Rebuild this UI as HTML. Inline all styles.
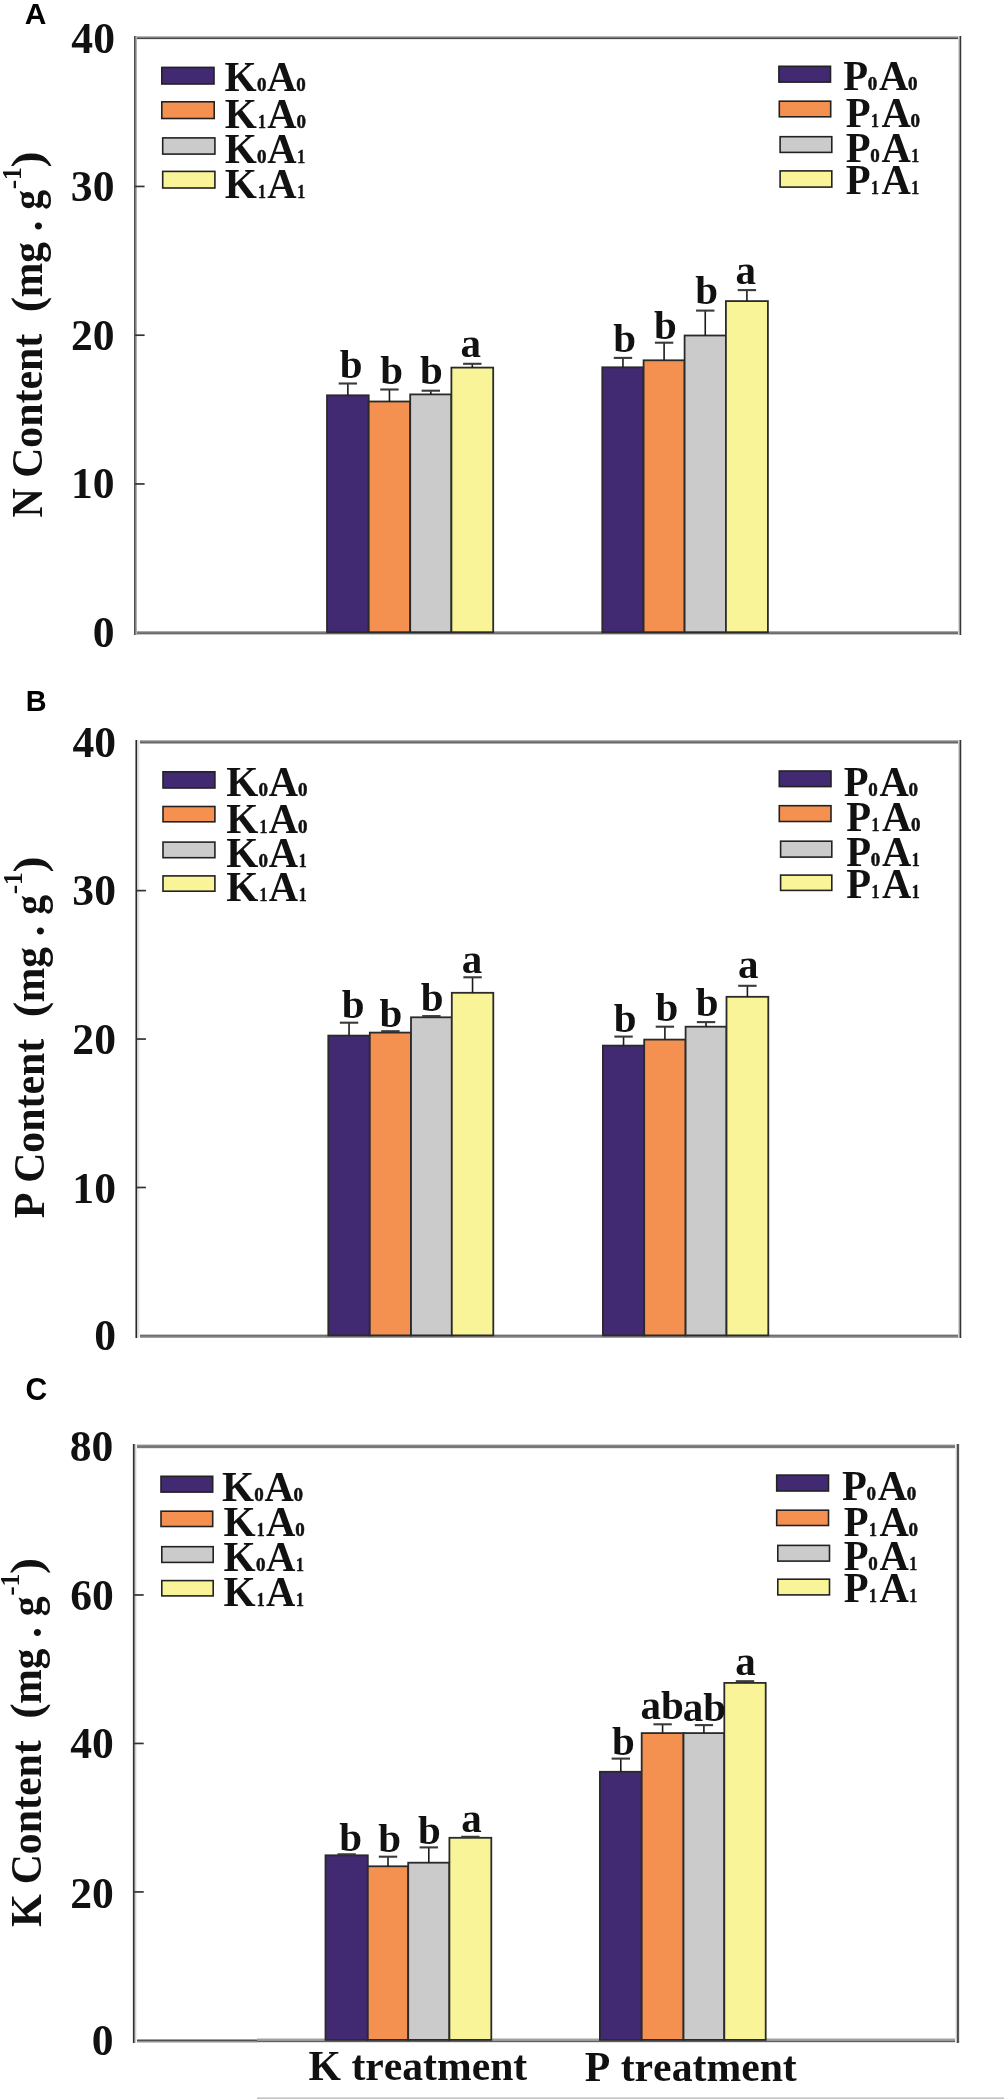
<!DOCTYPE html><html><head><meta charset="utf-8"><style>html,body{margin:0;padding:0;background:#fff;width:1004px;height:2099px}svg{display:block;will-change:transform}</style></head><body><svg width="1004" height="2099" viewBox="0 0 1004 2099" style="font-kerning:none">
<rect x="0" y="0" width="1004" height="2099" fill="#fff"/>
<text transform="translate(24.85,23.9)" font-family="'Liberation Sans', sans-serif" font-weight="bold" font-size="29.94" fill="#000">A</text>
<rect x="134" y="36" width="828" height="1" fill="#b8b8b8" shape-rendering="crispEdges"/>
<rect x="134" y="37" width="828" height="1" fill="#808080" shape-rendering="crispEdges"/>
<rect x="134" y="38" width="828" height="1" fill="#484848" shape-rendering="crispEdges"/>
<rect x="134" y="39" width="828" height="1" fill="#e8e8e8" shape-rendering="crispEdges"/>
<rect x="134" y="631" width="828" height="1" fill="#a8a8a8" shape-rendering="crispEdges"/>
<rect x="134" y="632" width="828" height="1" fill="#787878" shape-rendering="crispEdges"/>
<rect x="134" y="633" width="828" height="1" fill="#6a6a6a" shape-rendering="crispEdges"/>
<rect x="134" y="634" width="828" height="1" fill="#c8c8c8" shape-rendering="crispEdges"/>
<rect x="134" y="36" width="1" height="599" fill="#4e4e4e" shape-rendering="crispEdges"/>
<rect x="135" y="36" width="1" height="599" fill="#808080" shape-rendering="crispEdges"/>
<rect x="136" y="36" width="1" height="599" fill="#b0b0b0" shape-rendering="crispEdges"/>
<rect x="958" y="36" width="1" height="599" fill="#d8d8d8" shape-rendering="crispEdges"/>
<rect x="959" y="36" width="1" height="599" fill="#989898" shape-rendering="crispEdges"/>
<rect x="960" y="36" width="1" height="599" fill="#353535" shape-rendering="crispEdges"/>
<rect x="961" y="36" width="1" height="599" fill="#d0d0d0" shape-rendering="crispEdges"/>
<rect x="327" y="395.3" width="41.7" height="236.9" fill="#412a72" stroke="#2a2a2a" stroke-width="1.8"/>
<rect x="368.7" y="401.5" width="41.5" height="230.7" fill="#f59150" stroke="#2a2a2a" stroke-width="1.8"/>
<rect x="410.2" y="394.4" width="41.2" height="237.8" fill="#cbcbcb" stroke="#2a2a2a" stroke-width="1.8"/>
<rect x="451.4" y="367.6" width="41.8" height="264.6" fill="#faf499" stroke="#2a2a2a" stroke-width="1.8"/>
<line x1="347.85" y1="383.5" x2="347.85" y2="395.3" stroke="#1a1a1a" stroke-width="1.6"/>
<line x1="338.65" y1="383.5" x2="357.05" y2="383.5" stroke="#3a3a3a" stroke-width="2.1"/>
<text x="339.67" y="378.39" font-family="'Liberation Serif', serif" font-weight="bold" font-size="41" fill="#111">b</text>
<line x1="389.45" y1="389.5" x2="389.45" y2="401.5" stroke="#1a1a1a" stroke-width="1.6"/>
<line x1="380.25" y1="389.5" x2="398.65" y2="389.5" stroke="#3a3a3a" stroke-width="2.1"/>
<text x="380.17" y="384.39" font-family="'Liberation Serif', serif" font-weight="bold" font-size="41" fill="#111">b</text>
<line x1="430.8" y1="390.7" x2="430.8" y2="394.4" stroke="#1a1a1a" stroke-width="1.6"/>
<line x1="421.6" y1="390.7" x2="440" y2="390.7" stroke="#3a3a3a" stroke-width="2.1"/>
<text x="420.07" y="383.79" font-family="'Liberation Serif', serif" font-weight="bold" font-size="41" fill="#111">b</text>
<line x1="472.3" y1="363.8" x2="472.3" y2="367.6" stroke="#1a1a1a" stroke-width="1.6"/>
<line x1="463.1" y1="363.8" x2="481.5" y2="363.8" stroke="#3a3a3a" stroke-width="2.1"/>
<text x="460.6" y="357.39" font-family="'Liberation Serif', serif" font-weight="bold" font-size="41" fill="#111">a</text>
<rect x="602.3" y="367.3" width="41.3" height="264.9" fill="#412a72" stroke="#2a2a2a" stroke-width="1.8"/>
<rect x="643.6" y="360.3" width="41" height="271.9" fill="#f59150" stroke="#2a2a2a" stroke-width="1.8"/>
<rect x="684.6" y="335.5" width="41.3" height="296.7" fill="#cbcbcb" stroke="#2a2a2a" stroke-width="1.8"/>
<rect x="725.9" y="301.1" width="42" height="331.1" fill="#faf499" stroke="#2a2a2a" stroke-width="1.8"/>
<line x1="622.95" y1="357.9" x2="622.95" y2="367.3" stroke="#1a1a1a" stroke-width="1.6"/>
<line x1="613.75" y1="357.9" x2="632.15" y2="357.9" stroke="#3a3a3a" stroke-width="2.1"/>
<text x="613.27" y="351.79" font-family="'Liberation Serif', serif" font-weight="bold" font-size="41" fill="#111">b</text>
<line x1="664.1" y1="342.7" x2="664.1" y2="360.3" stroke="#1a1a1a" stroke-width="1.6"/>
<line x1="654.9" y1="342.7" x2="673.3" y2="342.7" stroke="#3a3a3a" stroke-width="2.1"/>
<text x="653.97" y="338.59" font-family="'Liberation Serif', serif" font-weight="bold" font-size="41" fill="#111">b</text>
<line x1="705.25" y1="310.6" x2="705.25" y2="335.5" stroke="#1a1a1a" stroke-width="1.6"/>
<line x1="696.05" y1="310.6" x2="714.45" y2="310.6" stroke="#3a3a3a" stroke-width="2.1"/>
<text x="695.17" y="304.49" font-family="'Liberation Serif', serif" font-weight="bold" font-size="41" fill="#111">b</text>
<line x1="746.9" y1="290.1" x2="746.9" y2="301.1" stroke="#1a1a1a" stroke-width="1.6"/>
<line x1="737.7" y1="290.1" x2="756.1" y2="290.1" stroke="#3a3a3a" stroke-width="2.1"/>
<text x="735.6" y="283.69" font-family="'Liberation Serif', serif" font-weight="bold" font-size="41" fill="#111">a</text>
<line x1="135.1" y1="186.45" x2="144.6" y2="186.45" stroke="#333" stroke-width="1.7"/>
<line x1="135.1" y1="335.2" x2="144.6" y2="335.2" stroke="#333" stroke-width="1.7"/>
<line x1="135.1" y1="483.95" x2="144.6" y2="483.95" stroke="#333" stroke-width="1.7"/>
<text x="71.36" y="52.56" font-family="'Liberation Serif', serif" font-weight="bold" font-size="43.6" fill="#111">40</text>
<text x="70.86" y="200.86" font-family="'Liberation Serif', serif" font-weight="bold" font-size="43.6" fill="#111">30</text>
<text x="70.96" y="349.56" font-family="'Liberation Serif', serif" font-weight="bold" font-size="43.6" fill="#111">20</text>
<text x="70.96" y="498.06" font-family="'Liberation Serif', serif" font-weight="bold" font-size="43.6" fill="#111">10</text>
<text x="92.66" y="646.86" font-family="'Liberation Serif', serif" font-weight="bold" font-size="43.6" fill="#111">0</text>
<text transform="translate(42.3,517.47) rotate(-90) scale(0.9254,1)" font-family="'Liberation Serif', serif" font-weight="bold" font-size="43.7" fill="#111">N</text>
<text transform="translate(42.3,477.84) rotate(-90) scale(0.9569,1)" font-family="'Liberation Serif', serif" font-weight="bold" font-size="43.7" fill="#111">Content</text>
<text transform="translate(42.3,312.25) rotate(-90) scale(1.0692,1)" font-family="'Liberation Serif', serif" font-weight="bold" font-size="43.7" fill="#111">(</text>
<text transform="translate(42.3,297.31) rotate(-90) scale(0.9479,1)" font-family="'Liberation Serif', serif" font-weight="bold" font-size="43.7" fill="#111">mg</text>
<text transform="translate(42.3,231.6) rotate(-90) scale(0.9881,1)" font-family="'Liberation Serif', serif" font-weight="bold" font-size="43.7" fill="#111">.</text>
<text transform="translate(42.3,209.75) rotate(-90) scale(0.9077,1)" font-family="'Liberation Serif', serif" font-weight="bold" font-size="43.7" fill="#111">g</text>
<text transform="translate(20.9,189.34) rotate(-90) scale(1.0174,1)" font-family="'Liberation Serif', serif" font-weight="bold" font-size="28" fill="#111">-</text>
<text transform="translate(20.9,179.97) rotate(-90) scale(0.9216,1)" font-family="'Liberation Serif', serif" font-weight="bold" font-size="28" fill="#111">1</text>
<text transform="translate(42.3,167.46) rotate(-90) scale(1.1048,1)" font-family="'Liberation Serif', serif" font-weight="bold" font-size="43.7" fill="#111">)</text>
<rect x="161.8" y="67.4" width="52.2" height="16.6" fill="#412a72" stroke="#222" stroke-width="1.6"/>
<text transform="translate(224.59,90.5) scale(0.9650,1)" font-family="'Liberation Serif', serif" font-weight="bold" font-size="42.8" fill="#111">K</text>
<text transform="translate(261.65,90.5) scale(0.96,1)" text-anchor="middle" font-family="'Liberation Serif', serif" font-weight="bold" font-size="19.8" fill="#111" stroke="#111" stroke-width="0.5">0</text>
<text transform="translate(267.1,90.5) scale(0.95,1)" font-family="'Liberation Serif', serif" font-weight="bold" font-size="42.8" fill="#111">A</text>
<text transform="translate(301.05,90.5) scale(0.96,1)" text-anchor="middle" font-family="'Liberation Serif', serif" font-weight="bold" font-size="19.8" fill="#111" stroke="#111" stroke-width="0.5">0</text>
<rect x="161.8" y="101.8" width="52.4" height="16.7" fill="#f59150" stroke="#222" stroke-width="1.6"/>
<text transform="translate(224.79,128.4) scale(0.9650,1)" font-family="'Liberation Serif', serif" font-weight="bold" font-size="42.8" fill="#111">K</text>
<text transform="translate(261.85,128.4) scale(0.8,1)" text-anchor="middle" font-family="'Liberation Serif', serif" font-weight="bold" font-size="19.8" fill="#111" stroke="#111" stroke-width="0.5">1</text>
<text transform="translate(267.3,128.4) scale(0.95,1)" font-family="'Liberation Serif', serif" font-weight="bold" font-size="42.8" fill="#111">A</text>
<text transform="translate(301.25,128.4) scale(0.96,1)" text-anchor="middle" font-family="'Liberation Serif', serif" font-weight="bold" font-size="19.8" fill="#111" stroke="#111" stroke-width="0.5">0</text>
<rect x="162.7" y="137.9" width="52.2" height="16.2" fill="#cbcbcb" stroke="#222" stroke-width="1.6"/>
<text transform="translate(224.79,162.7) scale(0.9650,1)" font-family="'Liberation Serif', serif" font-weight="bold" font-size="42.8" fill="#111">K</text>
<text transform="translate(261.85,162.7) scale(0.96,1)" text-anchor="middle" font-family="'Liberation Serif', serif" font-weight="bold" font-size="19.8" fill="#111" stroke="#111" stroke-width="0.5">0</text>
<text transform="translate(267.3,162.7) scale(0.95,1)" font-family="'Liberation Serif', serif" font-weight="bold" font-size="42.8" fill="#111">A</text>
<text transform="translate(301.25,162.7) scale(0.8,1)" text-anchor="middle" font-family="'Liberation Serif', serif" font-weight="bold" font-size="19.8" fill="#111" stroke="#111" stroke-width="0.5">1</text>
<rect x="162.7" y="171.4" width="52.2" height="16.6" fill="#faf499" stroke="#222" stroke-width="1.6"/>
<text transform="translate(224.79,197.6) scale(0.9650,1)" font-family="'Liberation Serif', serif" font-weight="bold" font-size="42.8" fill="#111">K</text>
<text transform="translate(261.85,197.6) scale(0.8,1)" text-anchor="middle" font-family="'Liberation Serif', serif" font-weight="bold" font-size="19.8" fill="#111" stroke="#111" stroke-width="0.5">1</text>
<text transform="translate(267.3,197.6) scale(0.95,1)" font-family="'Liberation Serif', serif" font-weight="bold" font-size="42.8" fill="#111">A</text>
<text transform="translate(301.25,197.6) scale(0.8,1)" text-anchor="middle" font-family="'Liberation Serif', serif" font-weight="bold" font-size="19.8" fill="#111" stroke="#111" stroke-width="0.5">1</text>
<rect x="778.9" y="66.3" width="51.6" height="15.8" fill="#412a72" stroke="#222" stroke-width="1.6"/>
<text transform="translate(843.31,90.4) scale(0.9500,1)" font-family="'Liberation Serif', serif" font-weight="bold" font-size="42.8" fill="#111">P</text>
<text transform="translate(872.55,90.4) scale(0.96,1)" text-anchor="middle" font-family="'Liberation Serif', serif" font-weight="bold" font-size="19.8" fill="#111" stroke="#111" stroke-width="0.5">0</text>
<text transform="translate(879,90.4) scale(0.95,1)" font-family="'Liberation Serif', serif" font-weight="bold" font-size="42.8" fill="#111">A</text>
<text transform="translate(912.65,90.4) scale(0.96,1)" text-anchor="middle" font-family="'Liberation Serif', serif" font-weight="bold" font-size="19.8" fill="#111" stroke="#111" stroke-width="0.5">0</text>
<rect x="779.3" y="101.2" width="51.4" height="15.6" fill="#f59150" stroke="#222" stroke-width="1.6"/>
<text transform="translate(845.81,127) scale(0.9500,1)" font-family="'Liberation Serif', serif" font-weight="bold" font-size="42.8" fill="#111">P</text>
<text transform="translate(875.05,127) scale(0.8,1)" text-anchor="middle" font-family="'Liberation Serif', serif" font-weight="bold" font-size="19.8" fill="#111" stroke="#111" stroke-width="0.5">1</text>
<text transform="translate(881.5,127) scale(0.95,1)" font-family="'Liberation Serif', serif" font-weight="bold" font-size="42.8" fill="#111">A</text>
<text transform="translate(915.15,127) scale(0.96,1)" text-anchor="middle" font-family="'Liberation Serif', serif" font-weight="bold" font-size="19.8" fill="#111" stroke="#111" stroke-width="0.5">0</text>
<rect x="780.1" y="136.7" width="51.7" height="15.7" fill="#cbcbcb" stroke="#222" stroke-width="1.6"/>
<text transform="translate(845.81,161.7) scale(0.9500,1)" font-family="'Liberation Serif', serif" font-weight="bold" font-size="42.8" fill="#111">P</text>
<text transform="translate(875.05,161.7) scale(0.96,1)" text-anchor="middle" font-family="'Liberation Serif', serif" font-weight="bold" font-size="19.8" fill="#111" stroke="#111" stroke-width="0.5">0</text>
<text transform="translate(881.5,161.7) scale(0.95,1)" font-family="'Liberation Serif', serif" font-weight="bold" font-size="42.8" fill="#111">A</text>
<text transform="translate(915.15,161.7) scale(0.8,1)" text-anchor="middle" font-family="'Liberation Serif', serif" font-weight="bold" font-size="19.8" fill="#111" stroke="#111" stroke-width="0.5">1</text>
<rect x="780.1" y="170.9" width="51.7" height="16.2" fill="#faf499" stroke="#222" stroke-width="1.6"/>
<text transform="translate(845.81,193.8) scale(0.9500,1)" font-family="'Liberation Serif', serif" font-weight="bold" font-size="42.8" fill="#111">P</text>
<text transform="translate(875.05,193.8) scale(0.8,1)" text-anchor="middle" font-family="'Liberation Serif', serif" font-weight="bold" font-size="19.8" fill="#111" stroke="#111" stroke-width="0.5">1</text>
<text transform="translate(881.5,193.8) scale(0.95,1)" font-family="'Liberation Serif', serif" font-weight="bold" font-size="42.8" fill="#111">A</text>
<text transform="translate(915.15,193.8) scale(0.8,1)" text-anchor="middle" font-family="'Liberation Serif', serif" font-weight="bold" font-size="19.8" fill="#111" stroke="#111" stroke-width="0.5">1</text>
<text transform="translate(25.77,711.2) scale(0.9638,1)" font-family="'Liberation Sans', sans-serif" font-weight="bold" font-size="29.94" fill="#000">B</text>
<rect x="135" y="740" width="827" height="1" fill="#b0b0b0" shape-rendering="crispEdges"/>
<rect x="135" y="741" width="827" height="1" fill="#808080" shape-rendering="crispEdges"/>
<rect x="135" y="742" width="827" height="1" fill="#666666" shape-rendering="crispEdges"/>
<rect x="135" y="743" width="827" height="1" fill="#b0b0b0" shape-rendering="crispEdges"/>
<rect x="135" y="1334" width="827" height="1" fill="#c8c8c8" shape-rendering="crispEdges"/>
<rect x="135" y="1335" width="827" height="1" fill="#6e6e6e" shape-rendering="crispEdges"/>
<rect x="135" y="1336" width="827" height="1" fill="#808080" shape-rendering="crispEdges"/>
<rect x="135" y="1337" width="827" height="1" fill="#a0a0a0" shape-rendering="crispEdges"/>
<rect x="135" y="740" width="1" height="598" fill="#888888" shape-rendering="crispEdges"/>
<rect x="136" y="740" width="1" height="598" fill="#282828" shape-rendering="crispEdges"/>
<rect x="137" y="740" width="1" height="598" fill="#d5d5d5" shape-rendering="crispEdges"/>
<rect x="138" y="740" width="1" height="598" fill="#e0e0e0" shape-rendering="crispEdges"/>
<rect x="139" y="740" width="1" height="598" fill="#f5f5f5" shape-rendering="crispEdges"/>
<rect x="958" y="740" width="1" height="598" fill="#d5d5d5" shape-rendering="crispEdges"/>
<rect x="959" y="740" width="1" height="598" fill="#959595" shape-rendering="crispEdges"/>
<rect x="960" y="740" width="1" height="598" fill="#353535" shape-rendering="crispEdges"/>
<rect x="961" y="740" width="1" height="598" fill="#c8c8c8" shape-rendering="crispEdges"/>
<rect x="328.3" y="1035.6" width="41.5" height="299.8" fill="#412a72" stroke="#2a2a2a" stroke-width="1.8"/>
<rect x="369.8" y="1032.6" width="41.2" height="302.8" fill="#f59150" stroke="#2a2a2a" stroke-width="1.8"/>
<rect x="411" y="1017.3" width="40.8" height="318.1" fill="#cbcbcb" stroke="#2a2a2a" stroke-width="1.8"/>
<rect x="451.8" y="992.8" width="41.5" height="342.6" fill="#faf499" stroke="#2a2a2a" stroke-width="1.8"/>
<line x1="349.05" y1="1022.7" x2="349.05" y2="1035.6" stroke="#1a1a1a" stroke-width="1.6"/>
<line x1="339.85" y1="1022.7" x2="358.25" y2="1022.7" stroke="#3a3a3a" stroke-width="2.1"/>
<text x="341.87" y="1018.09" font-family="'Liberation Serif', serif" font-weight="bold" font-size="41" fill="#111">b</text>
<line x1="390.4" y1="1031.2" x2="390.4" y2="1032.6" stroke="#1a1a1a" stroke-width="1.6"/>
<line x1="381.2" y1="1031.2" x2="399.6" y2="1031.2" stroke="#3a3a3a" stroke-width="2.1"/>
<text x="379.57" y="1026.59" font-family="'Liberation Serif', serif" font-weight="bold" font-size="41" fill="#111">b</text>
<line x1="431.4" y1="1016.1" x2="431.4" y2="1017.3" stroke="#1a1a1a" stroke-width="1.6"/>
<line x1="422.2" y1="1016.1" x2="440.6" y2="1016.1" stroke="#3a3a3a" stroke-width="2.1"/>
<text x="420.77" y="1011.49" font-family="'Liberation Serif', serif" font-weight="bold" font-size="41" fill="#111">b</text>
<line x1="472.55" y1="977.3" x2="472.55" y2="992.8" stroke="#1a1a1a" stroke-width="1.6"/>
<line x1="463.35" y1="977.3" x2="481.75" y2="977.3" stroke="#3a3a3a" stroke-width="2.1"/>
<text x="461.8" y="972.59" font-family="'Liberation Serif', serif" font-weight="bold" font-size="41" fill="#111">a</text>
<rect x="602.9" y="1045.6" width="41.3" height="289.8" fill="#412a72" stroke="#2a2a2a" stroke-width="1.8"/>
<rect x="644.2" y="1039.6" width="41.4" height="295.8" fill="#f59150" stroke="#2a2a2a" stroke-width="1.8"/>
<rect x="685.6" y="1026.7" width="40.9" height="308.7" fill="#cbcbcb" stroke="#2a2a2a" stroke-width="1.8"/>
<rect x="726.5" y="996.8" width="41.8" height="338.6" fill="#faf499" stroke="#2a2a2a" stroke-width="1.8"/>
<line x1="623.55" y1="1036.6" x2="623.55" y2="1045.6" stroke="#1a1a1a" stroke-width="1.6"/>
<line x1="614.35" y1="1036.6" x2="632.75" y2="1036.6" stroke="#3a3a3a" stroke-width="2.1"/>
<text x="613.77" y="1031.59" font-family="'Liberation Serif', serif" font-weight="bold" font-size="41" fill="#111">b</text>
<line x1="664.9" y1="1026.7" x2="664.9" y2="1039.6" stroke="#1a1a1a" stroke-width="1.6"/>
<line x1="655.7" y1="1026.7" x2="674.1" y2="1026.7" stroke="#3a3a3a" stroke-width="2.1"/>
<text x="655.47" y="1021.29" font-family="'Liberation Serif', serif" font-weight="bold" font-size="41" fill="#111">b</text>
<line x1="706.05" y1="1022.1" x2="706.05" y2="1026.7" stroke="#1a1a1a" stroke-width="1.6"/>
<line x1="696.85" y1="1022.1" x2="715.25" y2="1022.1" stroke="#3a3a3a" stroke-width="2.1"/>
<text x="695.77" y="1016.09" font-family="'Liberation Serif', serif" font-weight="bold" font-size="41" fill="#111">b</text>
<line x1="747.4" y1="985.8" x2="747.4" y2="996.8" stroke="#1a1a1a" stroke-width="1.6"/>
<line x1="738.2" y1="985.8" x2="756.6" y2="985.8" stroke="#3a3a3a" stroke-width="2.1"/>
<text x="738.1" y="978.09" font-family="'Liberation Serif', serif" font-weight="bold" font-size="41" fill="#111">a</text>
<line x1="136.4" y1="890.62" x2="145.9" y2="890.62" stroke="#333" stroke-width="1.7"/>
<line x1="136.4" y1="1039.05" x2="145.9" y2="1039.05" stroke="#333" stroke-width="1.7"/>
<line x1="136.4" y1="1187.48" x2="145.9" y2="1187.48" stroke="#333" stroke-width="1.7"/>
<text x="72.46" y="756.86" font-family="'Liberation Serif', serif" font-weight="bold" font-size="43.6" fill="#111">40</text>
<text x="72.36" y="905.26" font-family="'Liberation Serif', serif" font-weight="bold" font-size="43.6" fill="#111">30</text>
<text x="72.36" y="1053.56" font-family="'Liberation Serif', serif" font-weight="bold" font-size="43.6" fill="#111">20</text>
<text x="72.36" y="1202.66" font-family="'Liberation Serif', serif" font-weight="bold" font-size="43.6" fill="#111">10</text>
<text x="94.16" y="1350.36" font-family="'Liberation Serif', serif" font-weight="bold" font-size="43.6" fill="#111">0</text>
<text transform="translate(43.8,1218.32) rotate(-90) scale(0.9672,1)" font-family="'Liberation Serif', serif" font-weight="bold" font-size="43.7" fill="#111">P</text>
<text transform="translate(43.8,1182.84) rotate(-90) scale(0.9569,1)" font-family="'Liberation Serif', serif" font-weight="bold" font-size="43.7" fill="#111">Content</text>
<text transform="translate(43.8,1017.25) rotate(-90) scale(1.0692,1)" font-family="'Liberation Serif', serif" font-weight="bold" font-size="43.7" fill="#111">(</text>
<text transform="translate(43.8,1002.31) rotate(-90) scale(0.9479,1)" font-family="'Liberation Serif', serif" font-weight="bold" font-size="43.7" fill="#111">mg</text>
<text transform="translate(43.8,936.6) rotate(-90) scale(0.9881,1)" font-family="'Liberation Serif', serif" font-weight="bold" font-size="43.7" fill="#111">.</text>
<text transform="translate(43.8,914.75) rotate(-90) scale(0.9077,1)" font-family="'Liberation Serif', serif" font-weight="bold" font-size="43.7" fill="#111">g</text>
<text transform="translate(22.4,894.34) rotate(-90) scale(1.0174,1)" font-family="'Liberation Serif', serif" font-weight="bold" font-size="28" fill="#111">-</text>
<text transform="translate(22.4,884.97) rotate(-90) scale(0.9216,1)" font-family="'Liberation Serif', serif" font-weight="bold" font-size="28" fill="#111">1</text>
<text transform="translate(43.8,872.46) rotate(-90) scale(1.1048,1)" font-family="'Liberation Serif', serif" font-weight="bold" font-size="43.7" fill="#111">)</text>
<rect x="163" y="771.8" width="51.9" height="16.2" fill="#412a72" stroke="#222" stroke-width="1.6"/>
<text transform="translate(226.29,795.6) scale(0.9650,1)" font-family="'Liberation Serif', serif" font-weight="bold" font-size="42.8" fill="#111">K</text>
<text transform="translate(263.35,795.6) scale(0.96,1)" text-anchor="middle" font-family="'Liberation Serif', serif" font-weight="bold" font-size="19.8" fill="#111" stroke="#111" stroke-width="0.5">0</text>
<text transform="translate(268.8,795.6) scale(0.95,1)" font-family="'Liberation Serif', serif" font-weight="bold" font-size="42.8" fill="#111">A</text>
<text transform="translate(302.75,795.6) scale(0.96,1)" text-anchor="middle" font-family="'Liberation Serif', serif" font-weight="bold" font-size="19.8" fill="#111" stroke="#111" stroke-width="0.5">0</text>
<rect x="163" y="806.5" width="51.9" height="15.3" fill="#f59150" stroke="#222" stroke-width="1.6"/>
<text transform="translate(226.29,832.8) scale(0.9650,1)" font-family="'Liberation Serif', serif" font-weight="bold" font-size="42.8" fill="#111">K</text>
<text transform="translate(263.35,832.8) scale(0.8,1)" text-anchor="middle" font-family="'Liberation Serif', serif" font-weight="bold" font-size="19.8" fill="#111" stroke="#111" stroke-width="0.5">1</text>
<text transform="translate(268.8,832.8) scale(0.95,1)" font-family="'Liberation Serif', serif" font-weight="bold" font-size="42.8" fill="#111">A</text>
<text transform="translate(302.75,832.8) scale(0.96,1)" text-anchor="middle" font-family="'Liberation Serif', serif" font-weight="bold" font-size="19.8" fill="#111" stroke="#111" stroke-width="0.5">0</text>
<rect x="163" y="842.1" width="51.9" height="15.6" fill="#cbcbcb" stroke="#222" stroke-width="1.6"/>
<text transform="translate(226.29,867) scale(0.9650,1)" font-family="'Liberation Serif', serif" font-weight="bold" font-size="42.8" fill="#111">K</text>
<text transform="translate(263.35,867) scale(0.96,1)" text-anchor="middle" font-family="'Liberation Serif', serif" font-weight="bold" font-size="19.8" fill="#111" stroke="#111" stroke-width="0.5">0</text>
<text transform="translate(268.8,867) scale(0.95,1)" font-family="'Liberation Serif', serif" font-weight="bold" font-size="42.8" fill="#111">A</text>
<text transform="translate(302.75,867) scale(0.8,1)" text-anchor="middle" font-family="'Liberation Serif', serif" font-weight="bold" font-size="19.8" fill="#111" stroke="#111" stroke-width="0.5">1</text>
<rect x="163" y="875.9" width="51.9" height="15.3" fill="#faf499" stroke="#222" stroke-width="1.6"/>
<text transform="translate(226.29,901.4) scale(0.9650,1)" font-family="'Liberation Serif', serif" font-weight="bold" font-size="42.8" fill="#111">K</text>
<text transform="translate(263.35,901.4) scale(0.8,1)" text-anchor="middle" font-family="'Liberation Serif', serif" font-weight="bold" font-size="19.8" fill="#111" stroke="#111" stroke-width="0.5">1</text>
<text transform="translate(268.8,901.4) scale(0.95,1)" font-family="'Liberation Serif', serif" font-weight="bold" font-size="42.8" fill="#111">A</text>
<text transform="translate(302.75,901.4) scale(0.8,1)" text-anchor="middle" font-family="'Liberation Serif', serif" font-weight="bold" font-size="19.8" fill="#111" stroke="#111" stroke-width="0.5">1</text>
<rect x="779.3" y="771" width="51.7" height="15.6" fill="#412a72" stroke="#222" stroke-width="1.6"/>
<text transform="translate(843.81,795.6) scale(0.9500,1)" font-family="'Liberation Serif', serif" font-weight="bold" font-size="42.8" fill="#111">P</text>
<text transform="translate(873.05,795.6) scale(0.96,1)" text-anchor="middle" font-family="'Liberation Serif', serif" font-weight="bold" font-size="19.8" fill="#111" stroke="#111" stroke-width="0.5">0</text>
<text transform="translate(879.5,795.6) scale(0.95,1)" font-family="'Liberation Serif', serif" font-weight="bold" font-size="42.8" fill="#111">A</text>
<text transform="translate(913.15,795.6) scale(0.96,1)" text-anchor="middle" font-family="'Liberation Serif', serif" font-weight="bold" font-size="19.8" fill="#111" stroke="#111" stroke-width="0.5">0</text>
<rect x="779.3" y="805.7" width="51.7" height="15.8" fill="#f59150" stroke="#222" stroke-width="1.6"/>
<text transform="translate(846.31,831.1) scale(0.9500,1)" font-family="'Liberation Serif', serif" font-weight="bold" font-size="42.8" fill="#111">P</text>
<text transform="translate(875.55,831.1) scale(0.8,1)" text-anchor="middle" font-family="'Liberation Serif', serif" font-weight="bold" font-size="19.8" fill="#111" stroke="#111" stroke-width="0.5">1</text>
<text transform="translate(882,831.1) scale(0.95,1)" font-family="'Liberation Serif', serif" font-weight="bold" font-size="42.8" fill="#111">A</text>
<text transform="translate(915.65,831.1) scale(0.96,1)" text-anchor="middle" font-family="'Liberation Serif', serif" font-weight="bold" font-size="19.8" fill="#111" stroke="#111" stroke-width="0.5">0</text>
<rect x="780.6" y="841.2" width="51.2" height="15.9" fill="#cbcbcb" stroke="#222" stroke-width="1.6"/>
<text transform="translate(846.31,865.8) scale(0.9500,1)" font-family="'Liberation Serif', serif" font-weight="bold" font-size="42.8" fill="#111">P</text>
<text transform="translate(875.55,865.8) scale(0.96,1)" text-anchor="middle" font-family="'Liberation Serif', serif" font-weight="bold" font-size="19.8" fill="#111" stroke="#111" stroke-width="0.5">0</text>
<text transform="translate(882,865.8) scale(0.95,1)" font-family="'Liberation Serif', serif" font-weight="bold" font-size="42.8" fill="#111">A</text>
<text transform="translate(915.65,865.8) scale(0.8,1)" text-anchor="middle" font-family="'Liberation Serif', serif" font-weight="bold" font-size="19.8" fill="#111" stroke="#111" stroke-width="0.5">1</text>
<rect x="780.6" y="875.1" width="51.2" height="15.3" fill="#faf499" stroke="#222" stroke-width="1.6"/>
<text transform="translate(846.31,898) scale(0.9500,1)" font-family="'Liberation Serif', serif" font-weight="bold" font-size="42.8" fill="#111">P</text>
<text transform="translate(875.55,898) scale(0.8,1)" text-anchor="middle" font-family="'Liberation Serif', serif" font-weight="bold" font-size="19.8" fill="#111" stroke="#111" stroke-width="0.5">1</text>
<text transform="translate(882,898) scale(0.95,1)" font-family="'Liberation Serif', serif" font-weight="bold" font-size="42.8" fill="#111">A</text>
<text transform="translate(915.65,898) scale(0.8,1)" text-anchor="middle" font-family="'Liberation Serif', serif" font-weight="bold" font-size="19.8" fill="#111" stroke="#111" stroke-width="0.5">1</text>
<text transform="translate(25.56,1399.8) scale(0.9741,1)" font-family="'Liberation Sans', sans-serif" font-weight="bold" font-size="30.93" fill="#000">C</text>
<rect x="132" y="1444" width="828" height="1" fill="#d0d0d0" shape-rendering="crispEdges"/>
<rect x="132" y="1445" width="828" height="1" fill="#8a8a8a" shape-rendering="crispEdges"/>
<rect x="132" y="1446" width="828" height="1" fill="#747474" shape-rendering="crispEdges"/>
<rect x="132" y="1447" width="828" height="1" fill="#7a7a7a" shape-rendering="crispEdges"/>
<rect x="132" y="1448" width="828" height="1" fill="#e8e8e8" shape-rendering="crispEdges"/>
<rect x="132" y="2039" width="125" height="1" fill="#a0a0a0" shape-rendering="crispEdges"/>
<rect x="132" y="2040" width="125" height="1" fill="#525252" shape-rendering="crispEdges"/>
<rect x="132" y="2041" width="125" height="1" fill="#909090" shape-rendering="crispEdges"/>
<rect x="132" y="2042" width="125" height="1" fill="#c8c8c8" shape-rendering="crispEdges"/>
<rect x="257" y="2038" width="703" height="1" fill="#d0d0d0" shape-rendering="crispEdges"/>
<rect x="257" y="2039" width="703" height="1" fill="#a0a0a0" shape-rendering="crispEdges"/>
<rect x="257" y="2040" width="703" height="1" fill="#989898" shape-rendering="crispEdges"/>
<rect x="257" y="2041" width="703" height="1" fill="#606060" shape-rendering="crispEdges"/>
<rect x="257" y="2042" width="703" height="1" fill="#e0e0e0" shape-rendering="crispEdges"/>
<rect x="132" y="1444" width="1" height="599" fill="#e8e8e8" shape-rendering="crispEdges"/>
<rect x="133" y="1444" width="1" height="599" fill="#2e2e2e" shape-rendering="crispEdges"/>
<rect x="134" y="1444" width="1" height="599" fill="#7a7a7a" shape-rendering="crispEdges"/>
<rect x="135" y="1444" width="1" height="599" fill="#d0d0d0" shape-rendering="crispEdges"/>
<rect x="136" y="1444" width="1" height="599" fill="#f0f0f0" shape-rendering="crispEdges"/>
<rect x="955" y="1444" width="1" height="599" fill="#eeeeee" shape-rendering="crispEdges"/>
<rect x="956" y="1444" width="1" height="599" fill="#c8c8c8" shape-rendering="crispEdges"/>
<rect x="957" y="1444" width="1" height="599" fill="#4e4e4e" shape-rendering="crispEdges"/>
<rect x="958" y="1444" width="1" height="599" fill="#585858" shape-rendering="crispEdges"/>
<rect x="959" y="1444" width="1" height="599" fill="#e8e8e8" shape-rendering="crispEdges"/>
<rect x="325.5" y="1855.3" width="42.3" height="184.6" fill="#412a72" stroke="#2a2a2a" stroke-width="1.8"/>
<rect x="367.8" y="1866.3" width="40.4" height="173.6" fill="#f59150" stroke="#2a2a2a" stroke-width="1.8"/>
<rect x="408.2" y="1862.7" width="41.2" height="177.2" fill="#cbcbcb" stroke="#2a2a2a" stroke-width="1.8"/>
<rect x="449.4" y="1837.8" width="41.9" height="202.1" fill="#faf499" stroke="#2a2a2a" stroke-width="1.8"/>
<line x1="346.65" y1="1854.3" x2="346.65" y2="1855.3" stroke="#1a1a1a" stroke-width="1.6"/>
<line x1="337.45" y1="1854.3" x2="355.85" y2="1854.3" stroke="#3a3a3a" stroke-width="2.1"/>
<text x="339.17" y="1850.59" font-family="'Liberation Serif', serif" font-weight="bold" font-size="41" fill="#111">b</text>
<line x1="388" y1="1856.7" x2="388" y2="1866.3" stroke="#1a1a1a" stroke-width="1.6"/>
<line x1="378.8" y1="1856.7" x2="397.2" y2="1856.7" stroke="#3a3a3a" stroke-width="2.1"/>
<text x="378.17" y="1852.09" font-family="'Liberation Serif', serif" font-weight="bold" font-size="41" fill="#111">b</text>
<line x1="428.8" y1="1847.4" x2="428.8" y2="1862.7" stroke="#1a1a1a" stroke-width="1.6"/>
<line x1="419.6" y1="1847.4" x2="438" y2="1847.4" stroke="#3a3a3a" stroke-width="2.1"/>
<text x="418.07" y="1843.59" font-family="'Liberation Serif', serif" font-weight="bold" font-size="41" fill="#111">b</text>
<line x1="470.35" y1="1836.8" x2="470.35" y2="1837.8" stroke="#1a1a1a" stroke-width="1.6"/>
<line x1="461.15" y1="1836.8" x2="479.55" y2="1836.8" stroke="#3a3a3a" stroke-width="2.1"/>
<text x="461.3" y="1831.59" font-family="'Liberation Serif', serif" font-weight="bold" font-size="41" fill="#111">a</text>
<rect x="599.9" y="1771.8" width="41.8" height="268.1" fill="#412a72" stroke="#2a2a2a" stroke-width="1.8"/>
<rect x="641.7" y="1733.1" width="41.8" height="306.8" fill="#f59150" stroke="#2a2a2a" stroke-width="1.8"/>
<rect x="683.5" y="1733.1" width="40.8" height="306.8" fill="#cbcbcb" stroke="#2a2a2a" stroke-width="1.8"/>
<rect x="724.3" y="1682.9" width="41.4" height="357" fill="#faf499" stroke="#2a2a2a" stroke-width="1.8"/>
<line x1="620.8" y1="1758.6" x2="620.8" y2="1771.8" stroke="#1a1a1a" stroke-width="1.6"/>
<line x1="611.6" y1="1758.6" x2="630" y2="1758.6" stroke="#3a3a3a" stroke-width="2.1"/>
<text x="612.07" y="1754.59" font-family="'Liberation Serif', serif" font-weight="bold" font-size="41" fill="#111">b</text>
<line x1="662.6" y1="1724.3" x2="662.6" y2="1733.1" stroke="#1a1a1a" stroke-width="1.6"/>
<line x1="653.4" y1="1724.3" x2="671.8" y2="1724.3" stroke="#3a3a3a" stroke-width="2.1"/>
<text x="640.62" y="1719.09" font-family="'Liberation Serif', serif" font-weight="bold" font-size="41" fill="#111">ab</text>
<line x1="703.9" y1="1725.1" x2="703.9" y2="1733.1" stroke="#1a1a1a" stroke-width="1.6"/>
<line x1="694.7" y1="1725.1" x2="713.1" y2="1725.1" stroke="#3a3a3a" stroke-width="2.1"/>
<text x="682.72" y="1720.79" font-family="'Liberation Serif', serif" font-weight="bold" font-size="41" fill="#111">ab</text>
<line x1="745" y1="1681.2" x2="745" y2="1682.9" stroke="#1a1a1a" stroke-width="1.6"/>
<line x1="735.8" y1="1681.2" x2="754.2" y2="1681.2" stroke="#3a3a3a" stroke-width="2.1"/>
<text x="735.2" y="1675.19" font-family="'Liberation Serif', serif" font-weight="bold" font-size="41" fill="#111">a</text>
<line x1="134.2" y1="1594.97" x2="143.7" y2="1594.97" stroke="#333" stroke-width="1.7"/>
<line x1="134.2" y1="1743.45" x2="143.7" y2="1743.45" stroke="#333" stroke-width="1.7"/>
<line x1="134.2" y1="1891.93" x2="143.7" y2="1891.93" stroke="#333" stroke-width="1.7"/>
<text x="69.76" y="1461.16" font-family="'Liberation Serif', serif" font-weight="bold" font-size="43.6" fill="#111">80</text>
<text x="70.26" y="1609.76" font-family="'Liberation Serif', serif" font-weight="bold" font-size="43.6" fill="#111">60</text>
<text x="70.26" y="1758.36" font-family="'Liberation Serif', serif" font-weight="bold" font-size="43.6" fill="#111">40</text>
<text x="70.26" y="1908.26" font-family="'Liberation Serif', serif" font-weight="bold" font-size="43.6" fill="#111">20</text>
<text x="91.66" y="2054.86" font-family="'Liberation Serif', serif" font-weight="bold" font-size="43.6" fill="#111">0</text>
<text transform="translate(40.8,1926.92) rotate(-90) scale(0.9695,1)" font-family="'Liberation Serif', serif" font-weight="bold" font-size="43.7" fill="#111">K</text>
<text transform="translate(40.8,1884.34) rotate(-90) scale(0.9569,1)" font-family="'Liberation Serif', serif" font-weight="bold" font-size="43.7" fill="#111">Content</text>
<text transform="translate(40.8,1718.75) rotate(-90) scale(1.0692,1)" font-family="'Liberation Serif', serif" font-weight="bold" font-size="43.7" fill="#111">(</text>
<text transform="translate(40.8,1703.81) rotate(-90) scale(0.9479,1)" font-family="'Liberation Serif', serif" font-weight="bold" font-size="43.7" fill="#111">mg</text>
<text transform="translate(40.8,1638.1) rotate(-90) scale(0.9881,1)" font-family="'Liberation Serif', serif" font-weight="bold" font-size="43.7" fill="#111">.</text>
<text transform="translate(40.8,1616.25) rotate(-90) scale(0.9077,1)" font-family="'Liberation Serif', serif" font-weight="bold" font-size="43.7" fill="#111">g</text>
<text transform="translate(19.4,1595.84) rotate(-90) scale(1.0174,1)" font-family="'Liberation Serif', serif" font-weight="bold" font-size="28" fill="#111">-</text>
<text transform="translate(19.4,1586.47) rotate(-90) scale(0.9216,1)" font-family="'Liberation Serif', serif" font-weight="bold" font-size="28" fill="#111">1</text>
<text transform="translate(40.8,1573.96) rotate(-90) scale(1.1048,1)" font-family="'Liberation Serif', serif" font-weight="bold" font-size="43.7" fill="#111">)</text>
<rect x="161" y="1476.3" width="51.7" height="15.8" fill="#412a72" stroke="#222" stroke-width="1.6"/>
<text transform="translate(221.89,1500.9) scale(0.9650,1)" font-family="'Liberation Serif', serif" font-weight="bold" font-size="42.8" fill="#111">K</text>
<text transform="translate(258.95,1500.9) scale(0.96,1)" text-anchor="middle" font-family="'Liberation Serif', serif" font-weight="bold" font-size="19.8" fill="#111" stroke="#111" stroke-width="0.5">0</text>
<text transform="translate(264.4,1500.9) scale(0.95,1)" font-family="'Liberation Serif', serif" font-weight="bold" font-size="42.8" fill="#111">A</text>
<text transform="translate(298.35,1500.9) scale(0.96,1)" text-anchor="middle" font-family="'Liberation Serif', serif" font-weight="bold" font-size="19.8" fill="#111" stroke="#111" stroke-width="0.5">0</text>
<rect x="161" y="1511.2" width="51.7" height="15.3" fill="#f59150" stroke="#222" stroke-width="1.6"/>
<text transform="translate(223.59,1536.1) scale(0.9650,1)" font-family="'Liberation Serif', serif" font-weight="bold" font-size="42.8" fill="#111">K</text>
<text transform="translate(260.65,1536.1) scale(0.8,1)" text-anchor="middle" font-family="'Liberation Serif', serif" font-weight="bold" font-size="19.8" fill="#111" stroke="#111" stroke-width="0.5">1</text>
<text transform="translate(266.1,1536.1) scale(0.95,1)" font-family="'Liberation Serif', serif" font-weight="bold" font-size="42.8" fill="#111">A</text>
<text transform="translate(300.05,1536.1) scale(0.96,1)" text-anchor="middle" font-family="'Liberation Serif', serif" font-weight="bold" font-size="19.8" fill="#111" stroke="#111" stroke-width="0.5">0</text>
<rect x="161.8" y="1546.7" width="51.4" height="15.7" fill="#cbcbcb" stroke="#222" stroke-width="1.6"/>
<text transform="translate(223.59,1571.3) scale(0.9650,1)" font-family="'Liberation Serif', serif" font-weight="bold" font-size="42.8" fill="#111">K</text>
<text transform="translate(260.65,1571.3) scale(0.96,1)" text-anchor="middle" font-family="'Liberation Serif', serif" font-weight="bold" font-size="19.8" fill="#111" stroke="#111" stroke-width="0.5">0</text>
<text transform="translate(266.1,1571.3) scale(0.95,1)" font-family="'Liberation Serif', serif" font-weight="bold" font-size="42.8" fill="#111">A</text>
<text transform="translate(300.05,1571.3) scale(0.8,1)" text-anchor="middle" font-family="'Liberation Serif', serif" font-weight="bold" font-size="19.8" fill="#111" stroke="#111" stroke-width="0.5">1</text>
<rect x="161.8" y="1580.6" width="51.4" height="15.3" fill="#faf499" stroke="#222" stroke-width="1.6"/>
<text transform="translate(223.59,1605.9) scale(0.9650,1)" font-family="'Liberation Serif', serif" font-weight="bold" font-size="42.8" fill="#111">K</text>
<text transform="translate(260.65,1605.9) scale(0.8,1)" text-anchor="middle" font-family="'Liberation Serif', serif" font-weight="bold" font-size="19.8" fill="#111" stroke="#111" stroke-width="0.5">1</text>
<text transform="translate(266.1,1605.9) scale(0.95,1)" font-family="'Liberation Serif', serif" font-weight="bold" font-size="42.8" fill="#111">A</text>
<text transform="translate(300.05,1605.9) scale(0.8,1)" text-anchor="middle" font-family="'Liberation Serif', serif" font-weight="bold" font-size="19.8" fill="#111" stroke="#111" stroke-width="0.5">1</text>
<rect x="776.7" y="1475.1" width="51.8" height="15.9" fill="#412a72" stroke="#222" stroke-width="1.6"/>
<text transform="translate(842.11,1499.7) scale(0.9500,1)" font-family="'Liberation Serif', serif" font-weight="bold" font-size="42.8" fill="#111">P</text>
<text transform="translate(871.35,1499.7) scale(0.96,1)" text-anchor="middle" font-family="'Liberation Serif', serif" font-weight="bold" font-size="19.8" fill="#111" stroke="#111" stroke-width="0.5">0</text>
<text transform="translate(877.8,1499.7) scale(0.95,1)" font-family="'Liberation Serif', serif" font-weight="bold" font-size="42.8" fill="#111">A</text>
<text transform="translate(911.45,1499.7) scale(0.96,1)" text-anchor="middle" font-family="'Liberation Serif', serif" font-weight="bold" font-size="19.8" fill="#111" stroke="#111" stroke-width="0.5">0</text>
<rect x="776.7" y="1510.2" width="51.8" height="15.3" fill="#f59150" stroke="#222" stroke-width="1.6"/>
<text transform="translate(843.81,1535.8) scale(0.9500,1)" font-family="'Liberation Serif', serif" font-weight="bold" font-size="42.8" fill="#111">P</text>
<text transform="translate(873.05,1535.8) scale(0.8,1)" text-anchor="middle" font-family="'Liberation Serif', serif" font-weight="bold" font-size="19.8" fill="#111" stroke="#111" stroke-width="0.5">1</text>
<text transform="translate(879.5,1535.8) scale(0.95,1)" font-family="'Liberation Serif', serif" font-weight="bold" font-size="42.8" fill="#111">A</text>
<text transform="translate(913.15,1535.8) scale(0.96,1)" text-anchor="middle" font-family="'Liberation Serif', serif" font-weight="bold" font-size="19.8" fill="#111" stroke="#111" stroke-width="0.5">0</text>
<rect x="777.8" y="1545.4" width="51.7" height="15.7" fill="#cbcbcb" stroke="#222" stroke-width="1.6"/>
<text transform="translate(843.81,1570) scale(0.9500,1)" font-family="'Liberation Serif', serif" font-weight="bold" font-size="42.8" fill="#111">P</text>
<text transform="translate(873.05,1570) scale(0.96,1)" text-anchor="middle" font-family="'Liberation Serif', serif" font-weight="bold" font-size="19.8" fill="#111" stroke="#111" stroke-width="0.5">0</text>
<text transform="translate(879.5,1570) scale(0.95,1)" font-family="'Liberation Serif', serif" font-weight="bold" font-size="42.8" fill="#111">A</text>
<text transform="translate(913.15,1570) scale(0.8,1)" text-anchor="middle" font-family="'Liberation Serif', serif" font-weight="bold" font-size="19.8" fill="#111" stroke="#111" stroke-width="0.5">1</text>
<rect x="777.8" y="1579.2" width="51.7" height="15.7" fill="#faf499" stroke="#222" stroke-width="1.6"/>
<text transform="translate(843.81,1602.1) scale(0.9500,1)" font-family="'Liberation Serif', serif" font-weight="bold" font-size="42.8" fill="#111">P</text>
<text transform="translate(873.05,1602.1) scale(0.8,1)" text-anchor="middle" font-family="'Liberation Serif', serif" font-weight="bold" font-size="19.8" fill="#111" stroke="#111" stroke-width="0.5">1</text>
<text transform="translate(879.5,1602.1) scale(0.95,1)" font-family="'Liberation Serif', serif" font-weight="bold" font-size="42.8" fill="#111">A</text>
<text transform="translate(913.15,1602.1) scale(0.8,1)" text-anchor="middle" font-family="'Liberation Serif', serif" font-weight="bold" font-size="19.8" fill="#111" stroke="#111" stroke-width="0.5">1</text>
<text transform="translate(308.59,2080) scale(0.9692,1)" font-family="'Liberation Serif', serif" font-weight="bold" font-size="43" fill="#111">K treatment</text>
<text transform="translate(584.79,2080.5) scale(0.9704,1)" font-family="'Liberation Serif', serif" font-weight="bold" font-size="43" fill="#111">P treatment</text>
<rect x="257" y="2097" width="747" height="1" fill="#d8d8d8" shape-rendering="crispEdges"/>
<rect x="257" y="2098" width="747" height="1" fill="#c4c4c4" shape-rendering="crispEdges"/>
</svg></body></html>
